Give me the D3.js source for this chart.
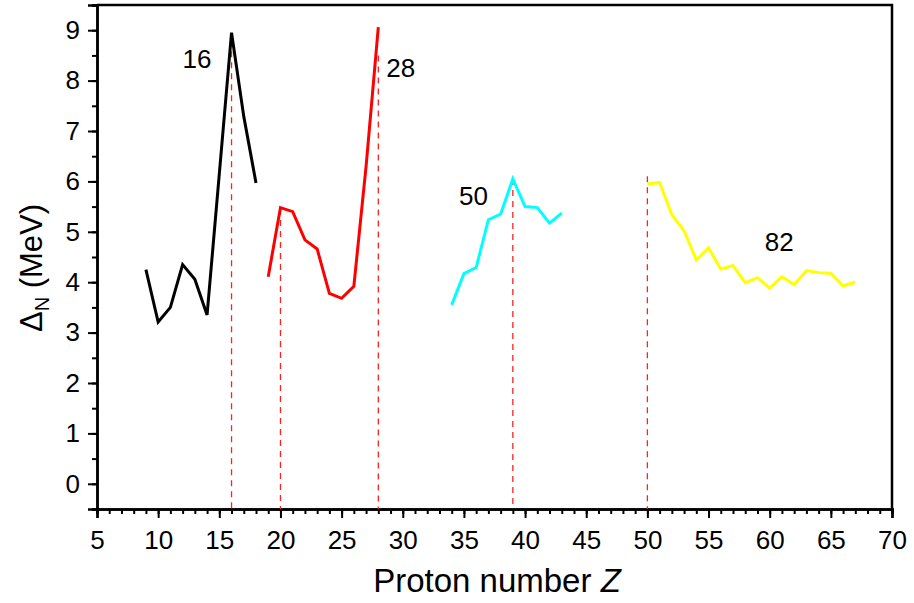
<!DOCTYPE html>
<html>
<head>
<meta charset="utf-8">
<script src="https://cdn.jsdelivr.net/npm/d3@7"></script>
<style>
  body { margin: 0; background: white; }
  text { font-family: "Liberation Sans", Arial, sans-serif; }
</style>
</head>
<body>
<div id="container"></div>
<script>
let w = 914;
let h = 603;

// values, one array per shell region
let zBlack = [9, 10, 11, 12, 13, 14, 15, 16, 17, 18];
let dBlack = [4.25, 3.21, 3.5, 4.35, 4.06, 3.35, 6.15, 8.95, 7.29, 5.97];

let zRed = [19, 20, 21, 22, 23, 24, 25, 26, 27, 28];
let dRed = [4.11, 5.48, 5.4, 4.84, 4.66, 3.78, 3.68, 3.92, 6.3, 9.06];

let zCyan = [34, 35, 36, 37, 38, 39, 40, 41, 42, 43];
let dCyan = [3.55, 4.17, 4.29, 5.24, 5.35, 6.05, 5.5, 5.48, 5.17, 5.37];

let zYellow = [50, 51, 52, 53, 54, 55, 56, 57, 58, 59, 60, 61, 62, 63, 64, 65, 66, 67];
let dYellow = [5.95, 5.98, 5.34, 5.02, 4.44, 4.68, 4.26, 4.33, 3.99, 4.09, 3.88, 4.11, 3.95, 4.23, 4.19, 4.18, 3.93, 4.0];

// red dashed markers: Z position, top value
let markZ = [16, 20, 28, 39, 50];
let markTop = [8.8, 5.45, 8.5, 6.05, 6.1];

// magic number labels
let magicText = ["16", "28", "50", "82"];
let magicZ = [12.0, 28.65, 34.6, 59.6];
let magicD = [8.25, 8.07, 5.53, 4.62];

let xTicks = d3.range(5, 71, 5);
let yTicks = d3.range(0, 10, 1);

let margin = {left: 97, right: 22, top: 5, bottom: 94};

let viz = d3.select("#container")
  .append("svg")
    .attr("width", w)
    .attr("height", h)
    .style("background-color", "white")
;

let xScale = d3.scaleLinear().domain([5, 70]).range([margin.left, w - margin.right]);
let yScale = d3.scaleLinear().domain([-0.5, 9.5]).range([h - margin.bottom, margin.top]);

// minor ticks first, then major ticks with labels
let xMinor = d3.axisBottom(xScale).tickValues(d3.range(5, 71, 1)).tickSize(5).tickFormat("");
let xMinorGroup = viz.append("g").attr("transform", "translate(0," + (h - margin.bottom) + ")").call(xMinor);

let xAxis = d3.axisBottom(xScale).tickValues(xTicks).tickSize(9).tickPadding(13).tickFormat(d3.format("d"));
let xAxisGroup = viz.append("g").attr("transform", "translate(0," + (h - margin.bottom) + ")").call(xAxis);

let yMinor = d3.axisLeft(yScale).tickValues(d3.range(-0.5, 9.6, 0.5)).tickSize(5).tickFormat("");
let yMinorGroup = viz.append("g").attr("transform", "translate(" + margin.left + ",0)").call(yMinor);

let yAxis = d3.axisLeft(yScale).tickValues(yTicks).tickSize(9).tickPadding(8).tickFormat(d3.format("d"));
let yAxisGroup = viz.append("g").attr("transform", "translate(" + margin.left + ",0)").call(yAxis);

viz.selectAll(".domain").attr("stroke", "black").attr("stroke-width", 2.5);
viz.selectAll(".tick line").attr("stroke", "black").attr("stroke-width", 2);
viz.selectAll(".tick text").attr("font-size", 26).attr("fill", "black")
  .attr("font-family", "Liberation Sans, Arial, sans-serif");

// top and right border of the frame
viz.append("path")
  .attr("d", "M" + margin.left + "," + margin.top + "H" + (w - margin.right) + "V" + (h - margin.bottom))
  .attr("fill", "none")
  .attr("stroke", "black")
  .attr("stroke-width", 2.5);

// dashed markers
viz.selectAll(".mark").data(markZ).enter()
  .append("line")
    .attr("class", "mark")
    .attr("x1", function(d){ return xScale(d); })
    .attr("x2", function(d){ return xScale(d); })
    .attr("y1", function(d, i){ return yScale(markTop[i]); })
    .attr("y2", h - margin.bottom)
    .attr("stroke", "#ff2020")
    .attr("stroke-width", 1.3)
    .attr("stroke-dasharray", "6,5")
;

let line = d3.line()
  .x(function(d){ return xScale(d[0]); })
  .y(function(d){ return yScale(d[1]); });

let series = [
  {z: zBlack, d: dBlack, color: "black"},
  {z: zRed, d: dRed, color: "#ff0000"},
  {z: zCyan, d: dCyan, color: "#00ffff"},
  {z: zYellow, d: dYellow, color: "#ffff00"}
];

series.forEach(function(s){
  viz.append("path")
    .datum(d3.zip(s.z, s.d))
    .attr("d", line)
    .attr("fill", "none")
    .attr("stroke", s.color)
    .attr("stroke-width", 3)
    .attr("stroke-linejoin", "miter");
});

viz.selectAll(".magic").data(magicText).enter()
  .append("text")
    .attr("class", "magic")
    .attr("x", function(d, i){ return xScale(magicZ[i]); })
    .attr("y", function(d, i){ return yScale(magicD[i]); })
    .attr("font-size", 26)
    .attr("fill", "black")
    .text(function(d){ return d; })
;

// axis titles
let xTitle = viz.append("text")
  .attr("x", 497)
  .attr("y", 592)
  .attr("text-anchor", "middle")
  .attr("font-size", 33)
  .attr("fill", "black");
xTitle.append("tspan").text("Proton number ");
xTitle.append("tspan").attr("font-style", "italic").text("Z");

let yTitle = viz.append("text")
  .attr("transform", "translate(42,268) rotate(-90)")
  .attr("text-anchor", "middle")
  .attr("font-size", 31)
  .attr("fill", "black");
yTitle.append("tspan").text("Δ");
yTitle.append("tspan").attr("font-size", 20).attr("dy", 7).text("N");
yTitle.append("tspan").attr("dy", -7).text(" (MeV)");
</script>
</body>
</html>
